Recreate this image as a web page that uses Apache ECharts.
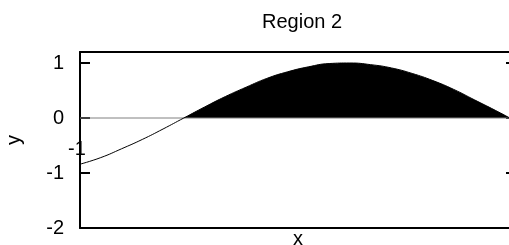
<!DOCTYPE html>
<html>
<head>
<meta charset="utf-8">
<script src="https://cdn.jsdelivr.net/npm/echarts@6/dist/echarts.min.js"></script>
<style>
  html, body { margin: 0; padding: 0; background: #fff; }
  #chart { width: 509px; height: 245px; }
</style>
</head>
<body>
<div id="chart"></div>
<script>
// curve
var xs = [-1.0, -0.8, -0.6, -0.4, -0.2, 0, 0.2, 0.4, 0.6, 0.8, 1.0, 1.2, 1.4, 1.6, 1.8, 2.0, 2.2, 2.4, 2.6, 2.8, 3.0, 3.14]
var ys = [-0.84, -0.72, -0.56, -0.39, -0.2, 0, 0.2, 0.39, 0.56, 0.72, 0.84, 0.93, 0.99, 1.0, 0.97, 0.91, 0.81, 0.68, 0.52, 0.33, 0.14, 0.0]
var yTicks = [-2, -1, 0, 1]

var curve = xs.map(function (x, i) { return [x, ys[i]] })
var positive = curve.filter(function (p) { return p[0] >= 0 })
var zero = [[xs[0], 0], [xs[xs.length - 1], 0]]

var font = 'Liberation Sans, Arial, sans-serif'
var myChart = echarts.init(document.getElementById('chart'))
var axisLine = { show: true, onZero: false, lineStyle: { color: '#000', width: 2 } }
var option = {
  animation: false,
  title: {
    text: 'Region 2',
    left: 257,
    top: 7,
    textStyle: { fontFamily: font, fontSize: 20, fontWeight: 'normal', color: '#000' }
  },
  grid: { left: 80, top: 52, right: -7, bottom: 17, outerBoundsMode: 'none', containLabel: false },
  xAxis: [
    {
      type: 'value', min: -1, max: 3.2, position: 'bottom',
      name: 'x', nameLocation: 'middle', nameGap: 1,
      nameTextStyle: { fontFamily: font, fontSize: 20, color: '#000', verticalAlign: 'top' },
      axisLine: axisLine,
      axisTick: { show: false }, axisLabel: { show: false }, splitLine: { show: false }
    },
    {
      type: 'value', min: -1, max: 3.2, position: 'top',
      axisLine: axisLine,
      axisTick: { show: false }, axisLabel: { show: false }, splitLine: { show: false }
    }
  ],
  yAxis: [
    {
      type: 'value', min: yTicks[0], max: 1.2, interval: 1, position: 'left',
      name: 'y', nameLocation: 'middle', nameGap: 56, nameRotate: 90,
      nameTextStyle: { fontFamily: font, fontSize: 20, color: '#000' },
      axisLine: axisLine,
      axisTick: { show: true, inside: true, length: 10, lineStyle: { color: '#000', width: 2 } },
      axisLabel: {
        fontFamily: font, fontSize: 20, color: '#000', margin: 16,
        formatter: function (v) { return yTicks.indexOf(v) >= 0 ? String(v) : '' }
      },
      splitLine: { show: false }
    },
    {
      type: 'value', min: yTicks[0], max: 1.2, interval: 1, position: 'right',
      axisLine: axisLine,
      axisTick: { show: true, inside: true, length: 10, lineStyle: { color: '#000', width: 2 } },
      axisLabel: { show: false }, splitLine: { show: false }
    }
  ],
  graphic: [
    {
      type: 'text', left: 68, top: 139,
      style: { text: '-1', font: '20px ' + font, fill: '#000' }
    }
  ],
  series: [
    {
      name: 'fill', type: 'line', data: positive, smooth: true, symbol: 'none',
      lineStyle: { width: 0 },
      areaStyle: { color: '#000', opacity: 1, origin: 0 }
    },
    {
      name: 'zero', type: 'line', data: zero, symbol: 'none',
      lineStyle: { color: '#808080', width: 1 }
    },
    {
      name: 'curve', type: 'line', data: curve, smooth: true, symbol: 'none',
      lineStyle: { color: '#000', width: 1 }
    }
  ]
}
myChart.setOption(option)
</script>
</body>
</html>
